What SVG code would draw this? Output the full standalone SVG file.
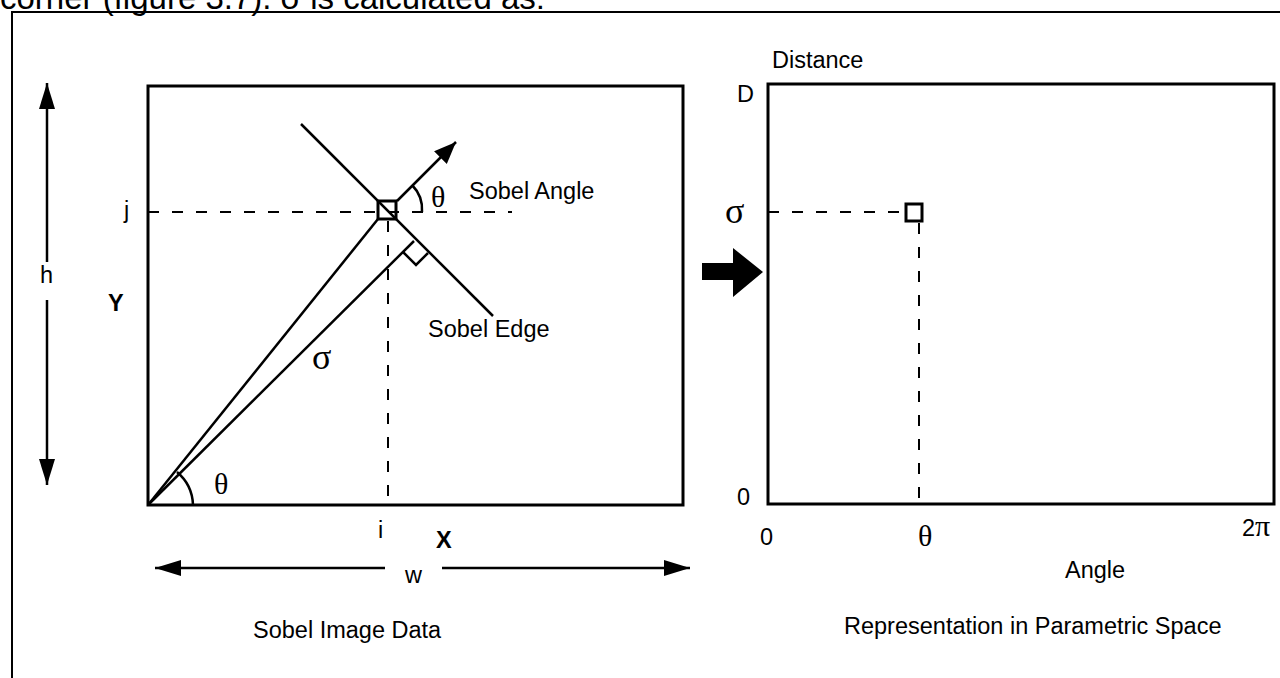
<svg xmlns="http://www.w3.org/2000/svg" width="1280" height="678" viewBox="0 0 1280 678">
<defs>
<marker id="ah" markerUnits="userSpaceOnUse" markerWidth="28" markerHeight="18" refX="26" refY="8" orient="auto"><path d="M0,0 L26,8 L0,16 z" fill="#000"/></marker>
<marker id="ahs" markerUnits="userSpaceOnUse" markerWidth="24" markerHeight="20" refX="22" refY="9" orient="auto"><path d="M0,0 L22,9 L0,18 z" fill="#000"/></marker>
</defs>
<style>
text{font-family:"Liberation Sans",Arial,sans-serif;font-size:23.5px;fill:#000}
.g{font-family:"Liberation Serif","Times New Roman",serif;font-size:30px}
.s{font-family:"Liberation Serif","Times New Roman",serif;font-size:36px}
.b{font-weight:bold}
.box{fill:none;stroke:#000;stroke-width:3}
.ln{stroke:#000;stroke-width:2.5;fill:none}
.dash{stroke:#000;stroke-width:2;stroke-dasharray:11 13;fill:none}
</style>
<rect width="1280" height="678" fill="#fff"/>
<text x="0" y="9" style="font-size:33px">corner (figure 3.7). σ is calculated as:</text>
<path d="M12,678 L12,12 L1280,12" fill="none" stroke="#000" stroke-width="2"/>

<g id="sobel-image">
<rect class="box" x="148" y="86" width="535" height="419"/>
<rect class="box" x="378" y="201" width="18" height="18"/>
<text x="124" y="218">j</text>
<text x="108" y="311" class="b">Y</text>
<text x="378" y="538">i</text>
<text x="436" y="548" class="b">X</text>
<text x="253" y="638">Sobel Image Data</text>
<text x="469" y="199">Sobel Angle</text>
<text x="428" y="337">Sobel Edge</text>
<text x="312" y="369" class="s">σ</text>
<text x="214" y="494" class="g">θ</text>
<text x="431" y="207" class="g">θ</text>
</g>

<g id="parametric-space">
<rect class="box" x="768" y="84" width="506" height="420"/>
<rect class="box" x="906" y="204" width="16" height="17"/>
<text x="772" y="68">Distance</text>
<text x="737" y="102">D</text>
<text x="725" y="223" class="s">σ</text>
<text x="737" y="505">0</text>
<text x="760" y="545">0</text>
<text x="918" y="546" class="g">θ</text>
<text x="1242" y="536">2<tspan class="g">π</tspan></text>
<text x="1065" y="578">Angle</text>
<text x="844" y="634">Representation in Parametric Space</text>
</g>

<g id="connectors">
<line class="ln" x1="301" y1="124" x2="493" y2="316"/>
<line class="ln" x1="397" y1="201" x2="456" y2="142" marker-end="url(#ahs)"/>
<path class="ln" d="M412,185 A35,35 0 0 1 422,212"/>
<line class="ln" x1="148" y1="505" x2="378" y2="219"/>
<line class="ln" x1="148" y1="505" x2="414" y2="241"/>
<path class="ln" d="M403,252 L416,265 L428,253"/>
<path class="ln" d="M177,472 A45,45 0 0 1 193,505"/>
<line class="dash" x1="148" y1="212" x2="512" y2="212"/>
<line class="dash" x1="388" y1="221" x2="388" y2="505"/>
<line class="ln" x1="47" y1="262" x2="47" y2="83" marker-end="url(#ah)"/>
<line class="ln" x1="47" y1="300" x2="47" y2="485" marker-end="url(#ah)"/>
<text x="40" y="283">h</text>
<line class="ln" x1="385" y1="568" x2="155" y2="568" marker-end="url(#ah)"/>
<line class="ln" x1="442" y1="568" x2="690" y2="568" marker-end="url(#ah)"/>
<text x="405" y="583">w</text>
<line class="dash" x1="768" y1="212" x2="905" y2="212"/>
<line class="dash" x1="919" y1="223" x2="919" y2="504"/>
<polygon points="702,263 733,263 733,248 763,272 733,297 733,280 702,280" fill="#000"/>
</g>
</svg>
